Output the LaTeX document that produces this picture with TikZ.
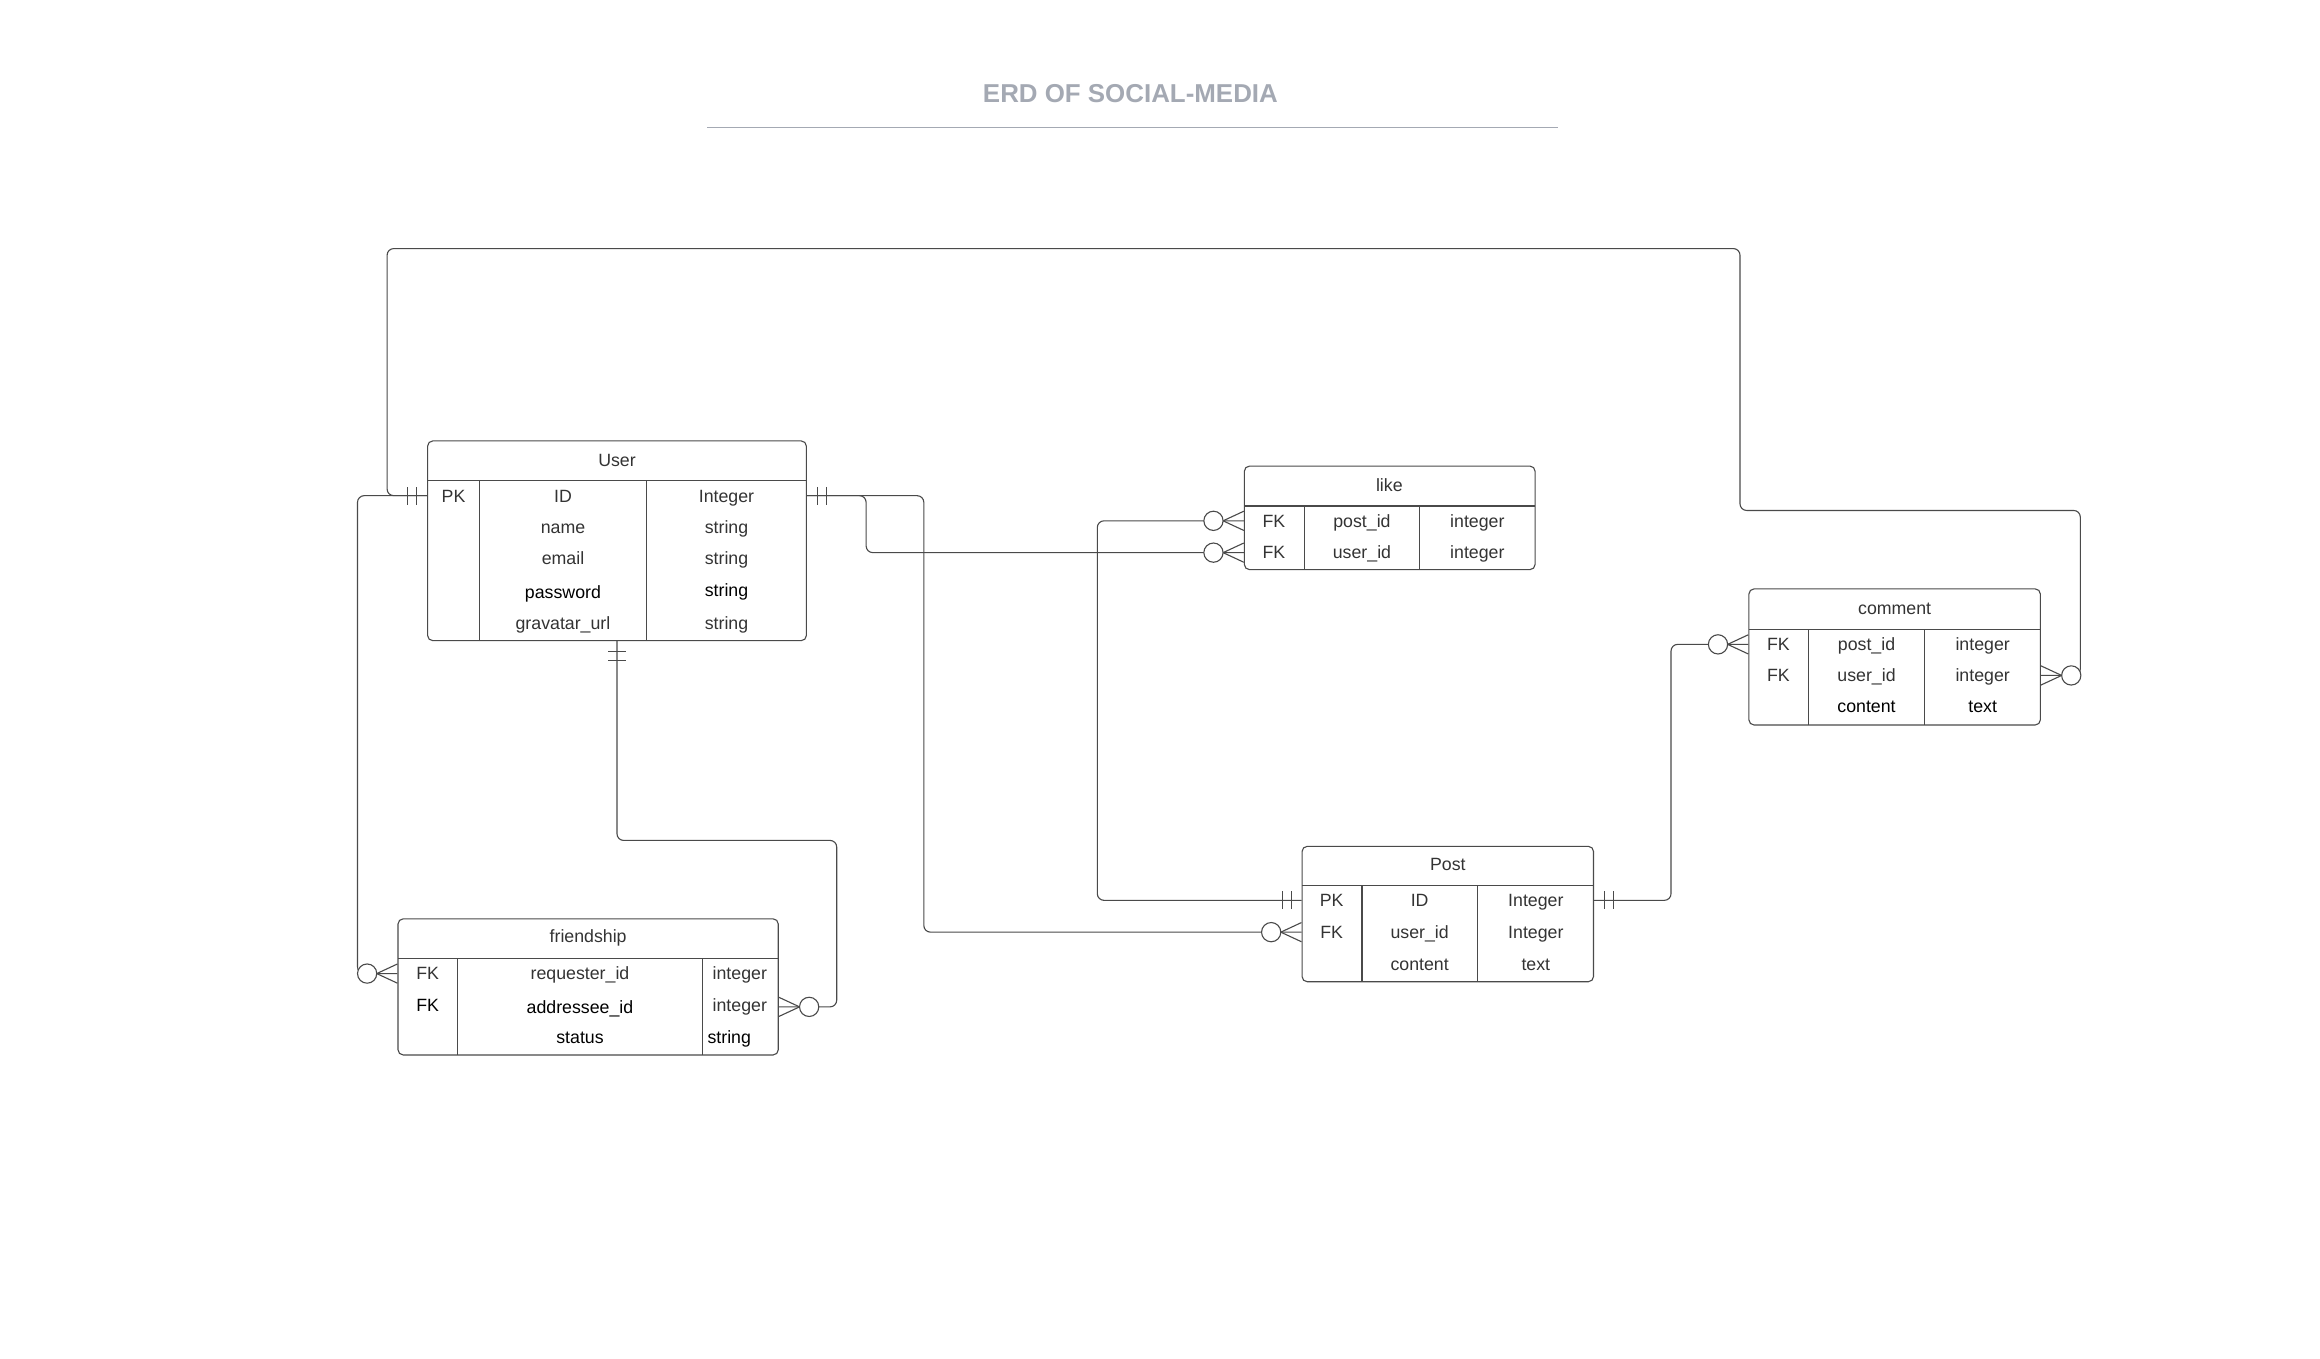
\documentclass[tikz,border=0pt]{standalone}
\usepackage{fontspec}
\setmainfont{Liberation Sans}
\usepackage{tikz}

\definecolor{titlegray}{HTML}{A4A9B3}
\definecolor{txtgray}{HTML}{333333}
\definecolor{linegray}{HTML}{4A4A4A}

\begin{document}
\begin{tikzpicture}[x=1pt,y=-1pt]
  \tikzset{table/.style = {draw=linegray,line width=0.75pt,rounded corners=3.5pt,inner sep=0pt}}
  \tikzset{field/.style = {text=txtgray,inner sep=0pt,text height=8.6pt,text depth=0pt,font=\fontsize{12}{14}\selectfont}}
  \tikzset{rel/.style = {draw=linegray,line width=0.75pt,rounded corners=4.5pt}}
  \tikzset{onlyone/.pic = {\draw[linegray,line width=0.75pt] (7,-6) -- (7,6) (13,-6) -- (13,6);}}
  \tikzset{zeromany/.pic = {\draw[linegray,line width=0.75pt] (0,-6.5) -- (14,0) -- (0,6.5);
      \draw[linegray,line width=0.75pt,fill=white] (20.5,0) circle (6.5);}}

  \useasboundingbox (0,0) rectangle (1568,918);

  % title
  \node[text=titlegray,font=\fontsize{17.5}{20}\selectfont\bfseries] (title) at (764,63) {ERD OF SOCIAL-MEDIA};
  \draw[titlegray,line width=1pt] (478,86) -- (1053,86);

  % User
  \node[table,minimum width=256pt,minimum height=135pt] (user) at (417,365.5) {};
  \draw[linegray,line width=0.75pt] (289,325) -- (545,325) (324,325) -- (324,433) (437,325) -- (437,433);
  \node[field] (user-head) at (417,311) {User};
  \node[field] (user-pk) at (306.5,335) {PK};
  \node[field] (user-id) at (380.5,335) {ID};
  \node[field] (user-id-t) at (491,335) {Integer};
  \node[field] (user-name) at (380.5,356) {name};
  \node[field] (user-name-t) at (491,356) {string};
  \node[field] (user-email) at (380.5,377.5) {email};
  \node[field] (user-email-t) at (491,377.5) {string};
  \node[field,text=black] (user-pw) at (380.5,400) {password};
  \node[field,text=black] (user-pw-t) at (491,399) {string};
  \node[field] (user-url) at (380.5,421) {gravatar\_url};
  \node[field] (user-url-t) at (491,421) {string};

  % like
  \node[table,minimum width=196.5pt,minimum height=70pt] (like) at (939.25,350) {};
  \draw[linegray,line width=0.75pt] (841,342) -- (1037.5,342) (881.5,342) -- (881.5,385) (959.5,342) -- (959.5,385);
  \node[field] (like-head) at (939,328) {like};
  \node[field] (like-fk1) at (861,352) {FK};
  \node[field] (like-pid) at (920.5,352) {post\_id};
  \node[field] (like-pid-t) at (998.5,352) {integer};
  \node[field] (like-fk2) at (861,373.5) {FK};
  \node[field] (like-uid) at (920.5,373.5) {user\_id};
  \node[field] (like-uid-t) at (998.5,373.5) {integer};

  % comment
  \node[table,minimum width=197pt,minimum height=92pt] (comment) at (1280.5,444) {};
  \draw[linegray,line width=0.75pt] (1182,425.5) -- (1379,425.5) (1222.5,425.5) -- (1222.5,490) (1300.5,425.5) -- (1300.5,490);
  \node[field] (comment-head) at (1280.5,411) {comment};
  \node[field] (comment-fk1) at (1202,435.5) {FK};
  \node[field] (comment-pid) at (1261.5,435.5) {post\_id};
  \node[field] (comment-pid-t) at (1340,435.5) {integer};
  \node[field] (comment-fk2) at (1202,456.5) {FK};
  \node[field] (comment-uid) at (1261.5,456.5) {user\_id};
  \node[field] (comment-uid-t) at (1340,456.5) {integer};
  \node[field,text=black] (comment-txt) at (1261.5,477.5) {content};
  \node[field,text=black] (comment-txt-t) at (1340,477.5) {text};

  % Post
  \node[table,minimum width=197pt,minimum height=91.5pt] (post) at (978.5,617.75) {};
  \draw[linegray,line width=0.75pt] (880,598.5) -- (1077,598.5) (920.5,598.5) -- (920.5,663.5) (998.5,598.5) -- (998.5,663.5);
  \node[field] (post-head) at (978.5,584) {Post};
  \node[field] (post-pk) at (900,608.5) {PK};
  \node[field] (post-id) at (959.5,608.5) {ID};
  \node[field] (post-id-t) at (1038,608.5) {Integer};
  \node[field] (post-fk) at (900,630) {FK};
  \node[field] (post-uid) at (959.5,630) {user\_id};
  \node[field] (post-uid-t) at (1038,630) {Integer};
  \node[field] (post-txt) at (959.5,651.5) {content};
  \node[field] (post-txt-t) at (1038,651.5) {text};

  % friendship
  \node[table,minimum width=257pt,minimum height=92pt] (friend) at (397.5,667) {};
  \draw[linegray,line width=0.75pt] (269,648) -- (526,648) (309.5,648) -- (309.5,713) (474.5,648) -- (474.5,713);
  \node[field] (friend-head) at (397.5,633) {friendship};
  \node[field] (friend-fk1) at (289,658) {FK};
  \node[field] (friend-req) at (392,658) {requester\_id};
  \node[field] (friend-req-t) at (500,658) {integer};
  \node[field,text=black] (friend-fk2) at (289,679) {FK};
  \node[field,text=black] (friend-add) at (392,680.5) {addressee\_id};
  \node[field] (friend-add-t) at (500,679) {integer};
  \node[field,text=black] (friend-st) at (392,701) {status};
  \node[field,text=black,anchor=west] (friend-st-t) at (478,701) {string};

  % relations
  \draw[rel] (user.west |- user-pk) -- ++(-27,0) |- (1176,168) |- (1406,345) |- (comment.east |- comment-uid);
  \draw[rel] (user.west |- user-pk) -- ++(-47,0) |- (friend.west |- friend-req);
  \draw[rel] (user.east |- user-pk) -- ++(40,0) |- (like.west |- like-uid);
  \draw[rel] (user.east |- user-pk) -- ++(79,0) |- (post.west |- post-uid);
  \draw[rel] (user.south) |- (565.5,568) |- (friend.east |- friend-add);
  \draw[rel] (post.west |- post-pk) -- ++(-138,0) |- (like.west |- like-pid);
  \draw[rel] (post.east |- post-pk) -- ++(52,0) |- (comment.west |- comment-pid);

  \pic[rotate=180] at (user.west |- user-pk) {onlyone};
  \pic at (user.east |- user-pk) {onlyone};
  \pic[rotate=-90] at (user.south) {onlyone};
  \pic[rotate=180] at (post.west |- post-pk) {onlyone};
  \pic at (post.east |- post-pk) {onlyone};
  \pic[rotate=180] at (like.west |- like-pid) {zeromany};
  \pic[rotate=180] at (like.west |- like-uid) {zeromany};
  \pic[rotate=180] at (post.west |- post-uid) {zeromany};
  \pic[rotate=180] at (comment.west |- comment-pid) {zeromany};
  \pic at (comment.east |- comment-uid) {zeromany};
  \pic[rotate=180] at (friend.west |- friend-req) {zeromany};
  \pic at (friend.east |- friend-add) {zeromany};

\end{tikzpicture}
\end{document}
